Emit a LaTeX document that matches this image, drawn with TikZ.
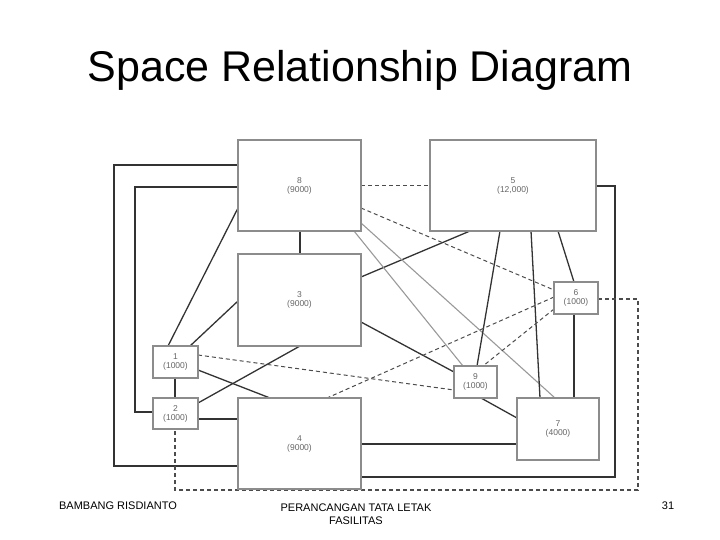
\documentclass[tikz,border=0pt]{standalone}
\usepackage{fontspec}
\setmainfont{Liberation Sans}
\begin{document}
\begin{tikzpicture}[x=1pt,y=-1pt,
 bx/.style={draw=black!45,line width=1.3pt,fill=white,inner sep=0pt,font=\fontsize{8.5}{9}\selectfont,text=black!60,align=center},
 sl/.style={black!80,line width=1.3pt},
 gl/.style={black!40,line width=1.1pt},
 dl/.style={black!70,line width=1pt,dash pattern=on 4pt off 3pt}]
\useasboundingbox (0,0) rectangle (720,540);
\node[font=\fontsize{43}{48}\selectfont] (title) at (360,70) {Space Relationship Diagram};
\node[font=\fontsize{11}{13}\selectfont] (f1) at (118,506) {BAMBANG RISDIANTO};
\node[font=\fontsize{11}{13}\selectfont,align=center] (f2) at (356,514) {PERANCANGAN TATA LETAK\\FASILITAS};
\node[font=\fontsize{11}{13}\selectfont] (f3) at (668,506) {31};
\coordinate (a1) at (114,165); \coordinate (a2) at (114,466);
\coordinate (b1) at (135,187); \coordinate (b2) at (135,412);
\coordinate (c1) at (615,186); \coordinate (c2) at (615,477);
\coordinate (d1) at (638,299); \coordinate (d2) at (638,490); \coordinate (d3) at (175,490);
\draw[sl] (238,165) -- (a1) -- (a2) -- (238,466);
\draw[sl] (238,187) -- (b1) -- (b2) -- (153,412);
\draw[sl] (596,186) -- (c1) -- (c2) -- (361,477);
\draw[dl,line width=1.4pt] (598,299) -- (d1) -- (d2) -- (d3) -- (175,429);
\draw[dl] (361,186) -- (430,186);
\draw[sl] (300,231) -- (300,254);
\draw[sl] (238,208) -- (168,346);
\draw[sl] (238,301) -- (190,346);
\draw[sl] (361,277) -- (470,231);
\draw[sl] (361,322) -- (454,372);
\draw[sl] (300,346) -- (198,403);
\draw[dl] (361,208) -- (554,290);
\draw[gl] (361,223) -- (555,398);
\draw[gl] (354,231) -- (463,366);
\draw[sl] (500,231) -- (477,366);
\draw[sl] (531,231) -- (540,398);
\draw[sl] (558,231) -- (574,282);
\draw[sl] (574,314) -- (574,398);
\draw[dl] (554,297) -- (327,398);
\draw[dl] (554,309) -- (483,366);
\draw[dl] (198,355) -- (454,390);
\draw[sl] (198,370) -- (270,398);
\draw[sl] (175,378) -- (175,398);
\draw[sl] (198,419) -- (238,419);
\draw[sl] (481,398) -- (517,418);
\draw[sl] (361,444) -- (517,444);
\node[bx,minimum width=123pt,minimum height=91pt] (n8) at (299.5,185.5) {8\\(9000)};
\node[bx,minimum width=166pt,minimum height=91pt] (n5) at (513,185.5) {5\\(12,000)};
\node[bx,minimum width=123pt,minimum height=92pt] (n3) at (299.5,300) {3\\(9000)};
\node[bx,minimum width=123pt,minimum height=91pt] (n4) at (299.5,443.5) {4\\(9000)};
\node[bx,minimum width=45pt,minimum height=32pt] (n1) at (175.5,362) {1\\(1000)};
\node[bx,minimum width=45pt,minimum height=31pt] (n2) at (175.5,413.5) {2\\(1000)};
\node[bx,minimum width=43pt,minimum height=32pt] (n9) at (475.5,382) {9\\(1000)};
\node[bx,minimum width=44pt,minimum height=32pt] (n6) at (576,298) {6\\(1000)};
\node[bx,minimum width=82pt,minimum height=62pt] (n7) at (558,429) {7\\(4000)};
\end{tikzpicture}
\end{document}
